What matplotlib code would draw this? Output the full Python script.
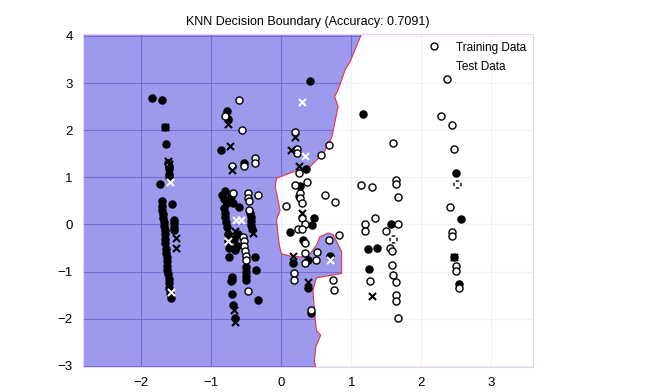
import numpy as np
import matplotlib.pyplot as plt
from matplotlib.lines import Line2D

plt.rcParams['font.family'] = ['Liberation Sans', 'DejaVu Sans']

title = "KNN Decision Boundary (Accuracy: 0.7091)"

# decision boundary (top to bottom)
boundary_x = [1.16, 1.14, 0.98, 0.91, 0.81, 0.76, 0.81, 0.72, 0.60, 0.41, 0.12, -0.07, -0.09,
              -0.05, -0.02, -0.07, -0.05, -0.03, 0.00, 0.12, 0.29, 0.41, 0.50, 0.55, 0.67, 0.74,
              0.86, 0.86, 0.50, 0.45, 0.47, 0.50, 0.56, 0.49, 0.47, 0.50]
boundary_y = [4.10, 4.03, 3.45, 3.28, 2.86, 2.71, 2.50, 1.86, 1.51, 1.23, 1.09, 0.98, 0.80,
              0.52, 0.30, 0.10, -0.19, -0.45, -0.62, -0.67, -0.69, -0.62, -0.44, -0.26, -0.18, -0.22,
              -0.58, -1.04, -1.13, -1.40, -1.80, -2.25, -2.35, -2.60, -2.90, -3.10]

# training points, class 0 (black) and class 1 (white)
train0_x = [-1.85, -1.71, -1.67, -1.65, -1.61, -1.61, -1.61, -1.60, -1.73, -1.56, -1.54, -1.54, -1.54, -1.54,
            -1.71, -1.70, -1.70, -1.69, -1.69, -1.68, -1.68, -1.67, -1.67, -1.66, -1.66, -1.65, -1.65,
            -1.64, -1.64, -1.63, -1.63, -1.62, -1.61, -1.61, -1.60, -1.59, -1.58,
            -0.78, -0.76, -0.87, -0.53, -0.81, -0.85, -0.82, -0.72, -0.78, -0.69, -0.60,
            -0.82, -0.81, -0.80, -0.79, -0.78, -0.77, -0.76, -0.75, -0.75,
            -0.45, -0.44, -0.44, -0.43, -0.42, -0.68, -0.62, -0.64, -0.66,
            -0.51, -0.51, -0.51, -0.50, -0.38, -0.36, -0.71, -0.70, -0.72, -0.70, -0.69, -0.67, -0.33,
            0.41, 0.35, 0.26, 0.25, 0.46, 0.43, 0.12, 0.31, 0.70, 0.38, 0.16, 0.38, 0.42,
            1.17, 2.50, 2.56, 1.56, 1.23, 1.37, 2.47, 1.25, 2.53]
train0_y = [2.69, 2.64, 2.06, 1.70, 1.25, 1.17, 1.08, 1.00, 0.85, 0.43, 0.09, 0.03, -0.05, -0.12,
            0.50, 0.40, 0.30, 0.22, 0.14, 0.05, -0.03, -0.12, -0.20, -0.30, -0.40, -0.52, -0.60,
            -0.68, -0.78, -0.88, -0.96, -1.05, -1.15, -1.25, -1.35, -1.45, -1.55,
            2.40, 2.23, 1.59, 1.30, 0.72, 0.62, 0.55, 0.58, 0.45, 0.45, 0.37,
            0.35, 0.25, 0.15, 0.05, -0.05, -0.20, -0.35, -0.50, -0.70,
            0.24, 0.15, 0.07, -0.02, -0.10, -0.30, -0.20, -0.45, -0.55,
            -0.90, -1.00, -1.10, -1.18, -0.69, -0.97, -1.12, -1.17, -1.20, -1.48, -1.70, -1.98, -1.61,
            3.04, 1.18, 0.81, 0.60, 0.13, -0.02, -0.16, -0.33, -0.66, -0.76, -0.82, -1.34, -1.88,
            2.34, 1.09, 0.11, 0.00, -0.53, -0.50, -0.70, -0.94, -1.26]

train1_x = [-1.62,
            -0.61, -0.81, -0.57, -0.71, -0.53, -0.38, -0.38, -0.69, -0.48, -0.48, -0.33, -0.47, -0.46,
            -0.55, -0.54, -0.53, -0.52, -0.51, -0.50, -0.48,
            0.19, 0.22, 0.22, 0.56, 0.68, 0.25, 0.19, 0.37, 0.62, 0.27, 0.27, 0.29, 0.77, 0.07,
            0.29, 0.33, 0.24, 0.30, 0.33, 0.33, 0.68, 0.82, 0.51, 0.49, 0.33, 0.18, 0.18, 0.73, 0.75, 0.42,
            2.36, 2.28, 2.43, 1.59, 2.46, 2.51, 1.14, 1.29, 1.64, 1.64, 1.66, 2.41, 1.34, 1.19, 1.19,
            1.67, 1.49, 1.59, 2.43, 2.43, 1.55, 1.58, 2.50, 2.50, 1.26, 1.58, 1.60, 1.64, 2.53,
            1.63, 1.64, 1.66]
train1_y = [1.30,
            2.65, 2.30, 2.01, 1.25, 1.25, 1.40, 1.30, 0.67, 0.67, 0.57, 0.62, 0.50, 0.30,
            -0.26, -0.36, -0.46, -0.56, -0.66, -0.76, -1.41,
            1.96, 1.60, 1.51, 1.47, 1.69, 1.10, 0.83, 0.90, 0.62, 0.66, 0.57, 0.46, 0.47, 0.40,
            0.13, 0.02, -0.10, -0.10, -0.39, -0.60, -0.32, -0.22, -0.59, -0.75, -0.82, -1.04, -1.17, -1.17, -1.38, -1.81,
            3.09, 2.30, 2.10, 1.72, 1.60, 0.86, 0.84, 0.79, 0.94, 0.85, 0.58, 0.38, 0.14, 0.00, -0.14,
            0.01, -0.13, -0.31, -0.17, -0.24, -0.50, -0.57, -0.89, -0.98, -1.19, -0.87, -1.08, -1.21, -1.35,
            -1.49, -1.63, -1.99]

# test points, class 0 (black x) and class 1 (white x)
test0_x = [-1.67, -1.62, -1.61, -1.51, -1.50, -0.77, -0.74, -0.71, -0.41, -0.66, -0.68, -0.66,
           0.20, 0.14, 0.25, 0.30, 0.16, 0.38, 1.29, 2.47]
test0_y = [2.06, 1.35, 1.29, -0.28, -0.50, 2.14, 1.66, 1.15, -0.19, -0.14, -1.82, -2.06,
           1.86, 1.57, 1.24, 0.25, -0.66, -1.23, -1.52, -0.70]
test1_x = [-1.59, -1.58, -0.65, -0.58, -0.76, 0.29, 0.33, 0.70, 2.51, 1.59]
test1_y = [0.91, -1.43, 0.09, 0.09, -0.35, 2.60, 1.45, -0.75, 0.86, -0.31]

xlim = (-2.84, 3.59)
ylim = (-3.03, 4.03)

fig = plt.figure(figsize=(6.61, 3.92), dpi=100)
ax = fig.add_axes([0.125, 0.063, 0.681, 0.849])

# region fills: blue on the left of the boundary, white on the right
left_x = boundary_x + [-3.0, -3.0]
left_y = boundary_y + [-3.1, 4.1]
right_x = boundary_x + [4.0, 4.0]
right_y = boundary_y + [-3.1, 4.1]
ax.fill(left_x, left_y, color=(60/255, 55/255, 222/255), alpha=0.5, lw=0, zorder=1)
ax.fill(right_x, right_y, color='white', alpha=0.85, lw=0, zorder=1)
ax.plot(boundary_x, boundary_y, color='#e0304a', lw=0.8, zorder=2)

ax.scatter(train0_x, train0_y, s=26, c='black', edgecolors='black', linewidths=1.0, zorder=3)
ax.scatter(train1_x, train1_y, s=26, c='white', edgecolors='black', linewidths=1.0, zorder=3)
ax.scatter(test0_x, test0_y, s=26, marker='x', c='black', linewidths=1.5, zorder=4)
ax.scatter(test1_x, test1_y, s=26, marker='x', c='white', linewidths=1.5, zorder=4)

ax.set_xlim(xlim)
ax.set_ylim(ylim)
ax.set_xticks([-2, -1, 0, 1, 2, 3])
ax.set_yticks([-3, -2, -1, 0, 1, 2, 3, 4])
ax.set_xticklabels(['\u22122', '\u22121', '0', '1', '2', '3'])
ax.set_yticklabels(['\u22123', '\u22122', '\u22121', '0', '1', '2', '3', '4'])
ax.tick_params(length=0, labelsize=9.5, pad=7)
ax.set_axisbelow(True)
ax.grid(True, color='#b0a0c0', lw=0.8)
for sp in ax.spines.values():
    sp.set_color('#e6d2ec')
    sp.set_linewidth(0.8)

ax.set_title(title, fontsize=9, pad=7)

handles = [
    Line2D([], [], ls='', marker='o', markerfacecolor='white', markeredgecolor='black', markersize=5, markeredgewidth=1.0),
    Line2D([], [], ls='', marker='x', color='white', markersize=5),
]
ax.legend(handles, ['Training Data', 'Test Data'], loc='upper right', frameon=False, fontsize=8.5,
          handletextpad=0.8, borderaxespad=0.0, borderpad=0.6, labelspacing=0.6)

fig.savefig('out.png', dpi=100)
